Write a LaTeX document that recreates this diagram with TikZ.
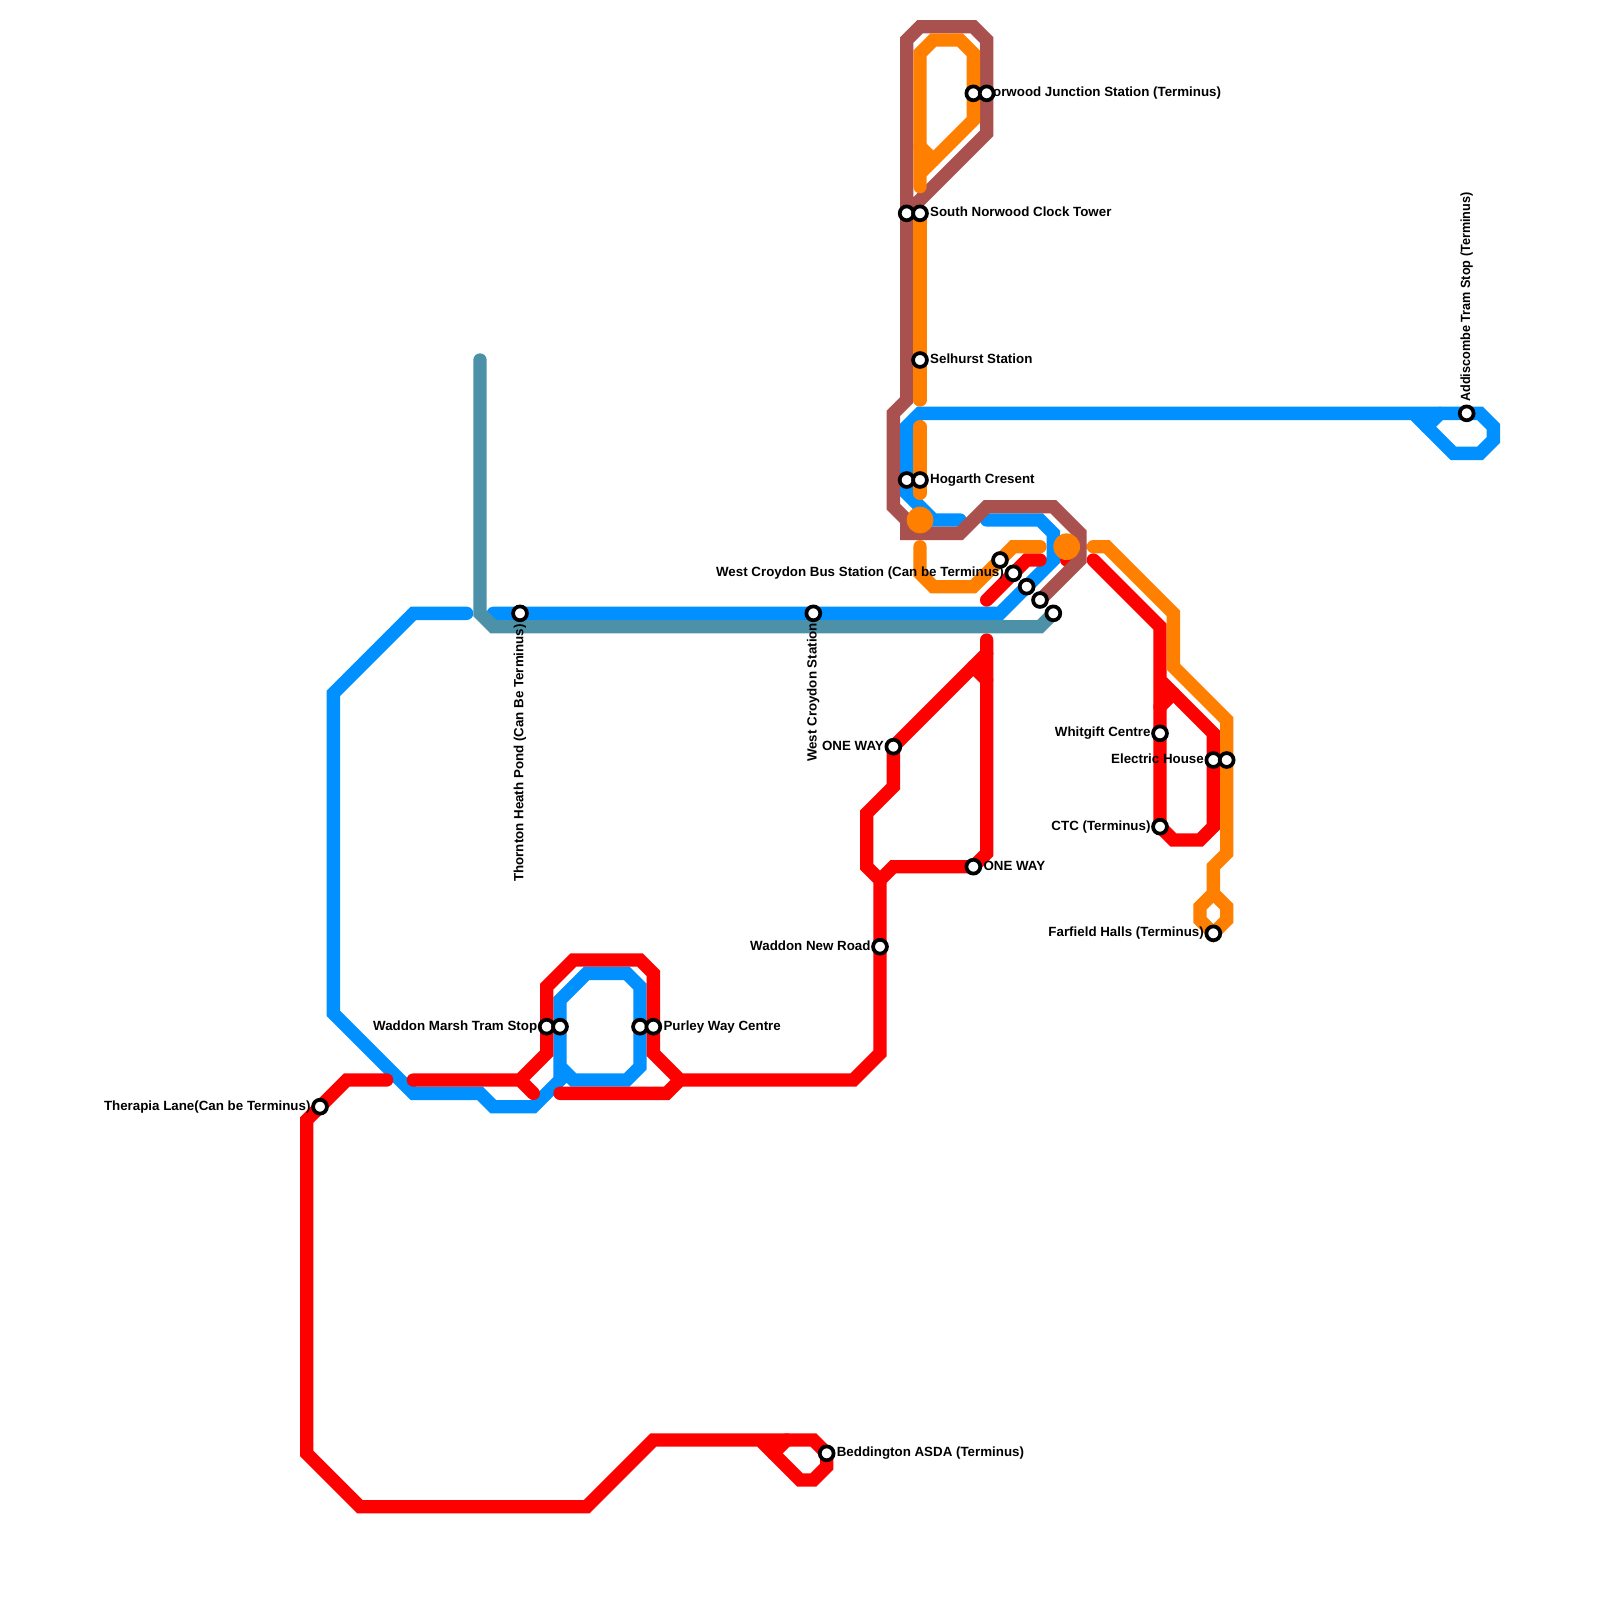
\documentclass[tikz,border=0pt]{standalone}
\usepackage{fontspec}
\setmainfont{Liberation Sans}
\definecolor{lred}{HTML}{FF0000}
\definecolor{lblue}{HTML}{0090FF}
\definecolor{lorange}{HTML}{FF8000}
\definecolor{lbrown}{HTML}{A8514E}
\definecolor{lteal}{HTML}{4D91A8}
\tikzset{
  route/.style={line width=0.5cm,line cap=round,line join=miter},
  redline/.style={route,draw=lred},
  blueline/.style={route,draw=lblue},
  orangeline/.style={route,draw=lorange},
  brownline/.style={route,draw=lbrown},
  tealline/.style={route,draw=lteal},
  hub/.style={circle,fill=lorange,minimum size=1cm,inner sep=0pt},
  stn/.style={circle,draw=black,fill=white,line width=0.14cm,minimum size=0.52cm,inner sep=0pt},
  lab/.style={inner sep=0pt,font=\fontsize{14.226}{17}\selectfont\bfseries},
  labr/.style={lab,anchor=base west},
  labl/.style={lab,anchor=base east},
  labup/.style={lab,anchor=base west,rotate=90},
  labdown/.style={lab,anchor=base east,rotate=90}
}
\begin{document}
\begin{tikzpicture}[x=0.5cm,y=-0.5cm]
\useasboundingbox (0,0) rectangle (120,120);
\fill[white] (0,0) rectangle (120,120);
% blue
\draw[blueline] (35,46)--(31,46)--(25,52)--(25,76)--(31,82)--(36,82)--(37,83)--(40,83)--(42,81)--(42,75)--(44,73)--(47,73)--(48,74)--(48,80)--(47,81)--(43,81)--(42,80);
\draw[blueline] (37,46)--(75,46)--(79,42)--(79,40)--(78,39)--(74,39);
\draw[blueline] (72,39)--(70,39)--(68,37)--(68,32)--(69,31)--(111,31)--(112,32)--(112,33)--(111,34)--(109,34)--(106,31);
\draw[blueline] (107,32)--(108,31);
% red
\draw[redline] (29,81)--(26,81)--(23,84)--(23,109)--(27,113)--(44,113)--(49,108)--(61,108)--(62,109)--(62,110)--(61,111)--(60,111)--(57,108);
\draw[redline] (58,109)--(59,108);
\draw[redline] (31,81)--(39,81)--(41,79)--(41,74)--(43,72)--(48,72)--(49,73)--(49,79)--(51,81)--(64,81)--(66,79)--(66,66)--(65,65)--(65,61)--(67,59)--(67,56)--(74,49);
\draw[redline] (39,81)--(40,82);
\draw[redline] (42,82)--(50,82)--(51,81);
\draw[redline] (74,48)--(74,64)--(73,65)--(67,65)--(66,66);
\draw[redline] (73,50)--(74,51);
\draw[redline] (74,45)--(77,42)--(78,42);
\draw[redline] (80,42)--(81,41);
\draw[redline] (82,42)--(87,47)--(87,62)--(88,63)--(90,63)--(91,62)--(91,55)--(87,51);
\draw[redline] (87,53)--(88,52);
% teal
\draw[tealline] (36,27)--(36,46)--(37,47)--(78,47)--(79,46);
% brown
\draw[brownline] (78,45)--(81,42)--(81,40)--(79,38)--(74,38)--(72,40)--(68,40)--(68,39)--(67,38)--(67,31)--(68,30)--(68,3)--(69,2)--(73,2)--(74,3)--(74,10)--(68,16);
% orange
\draw[orangeline] (69,14)--(69,4)--(70,3)--(72,3)--(73,4)--(73,9)--(69,13);
\draw[orangeline] (69,11)--(70,12);
\draw[orangeline] (69,16)--(69,30);
\draw[orangeline] (69,32)--(69,37);
\draw[orangeline] (69,41)--(69,43)--(70,44)--(73,44)--(76,41)--(78,41);
\draw[orangeline] (82,41)--(83,41)--(88,46)--(88,50)--(92,54)--(92,64)--(91,65)--(91,67)--(92,68)--(92,69)--(91,70)--(90,69)--(90,68)--(91,67);
\node[hub] (hubA) at (69,39) {};
\node[hub] (hubB) at (80,41) {};
% labels
\node[labl] (tTherapia) at (23.3,83.25) {Therapia Lane(Can be Terminus)};
\node[labdown] (tThornton) at (39.25,46.8) {Thornton Heath Pond (Can Be Terminus)};
\node[labdown] (tWestCroydon) at (61.25,46.7) {West Croydon Station};
\node[labl] (tWaddonMarsh) at (40.3,77.25) {Waddon Marsh Tram Stop};
\node[labr] (tPurley) at (49.75,77.25) {Purley Way Centre};
\node[labl] (tWaddonNew) at (65.3,71.25) {Waddon New Road};
\node[labl] (tOneWayA) at (66.3,56.25) {ONE WAY};
\node[labr] (tOneWayB) at (73.75,65.25) {ONE WAY};
\node[labr] (tNorwood) at (73.75,7.25) {Norwood Junction Station (Terminus)};
\node[labr] (tSouthNorwood) at (69.75,16.25) {South Norwood Clock Tower};
\node[labr] (tSelhurst) at (69.75,27.25) {Selhurst Station};
\node[labr] (tHogarth) at (69.75,36.25) {Hogarth Cresent};
\node[labl] (tBus) at (75.3,43.25) {West Croydon Bus Station (Can be Terminus)};
\node[labl] (tWhitgift) at (86.3,55.25) {Whitgift Centre};
\node[labl] (tElectric) at (90.3,57.25) {Electric House};
\node[labl] (tCTC) at (86.3,62.25) {CTC (Terminus)};
\node[labl] (tFarfield) at (90.3,70.25) {Farfield Halls (Terminus)};
\node[labup] (tAddiscombe) at (110.25,30.15) {\scalebox{0.95}[1]{Addiscombe Tram Stop (Terminus)}};
\node[labr] (tBeddington) at (62.75,109.25) {Beddington ASDA (Terminus)};
% stations
\foreach \n/\x/\y in {therapia/24/83,thornton/39/46,westcroydon/61/46,marshA/41/77,marshB/42/77,purleyA/48/77,purleyB/49/77,waddonnew/66/71,onewayA/67/56,onewayB/73/65,norwoodA/73/7,norwoodB/74/7,southA/68/16,southB/69/16,selhurst/69/27,hogarthA/68/36,hogarthB/69/36,busA/75/42,busB/76/43,busC/77/44,busD/78/45,busE/79/46,whitgift/87/55,electricA/91/57,electricB/92/57,ctc/87/62,farfield/91/70,addiscombe/110/31,beddington/62/109}
  \node[stn] (\n) at (\x,\y) {};
\end{tikzpicture}
\end{document}
